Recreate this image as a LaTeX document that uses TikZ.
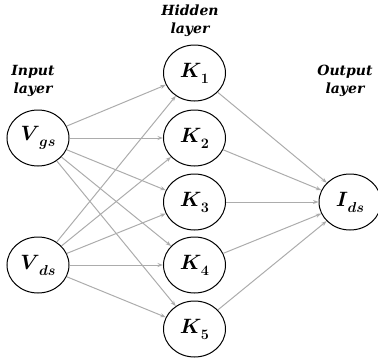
\documentclass[tikz,border=0pt]{standalone}
\usepackage{fontspec}
\usepackage{bm}
\setmainfont{DejaVu Serif}
\usetikzlibrary{shapes.geometric,arrows.meta}
\newcommand{\nlab}[2]{$\bm{#1}$\kern-0.5pt\raisebox{-0.3em}{\fontsize{14}{14}\selectfont$\bm{#2}$}}
\begin{document}
\begin{tikzpicture}[x=1pt,y=-1pt,
  neuron/.style={ellipse,draw=black,line width=1pt,minimum width=62pt,minimum height=56pt,inner sep=0pt,font=\fontsize{20}{20}\selectfont},
  lbl/.style={font=\bfseries\itshape\fontsize{14}{18}\selectfont,align=center},
  conn/.style={draw=gray!65,line width=1pt,-{Stealth[length=5.5pt,width=4pt]}}]
\useasboundingbox (0,0) rectangle (378,359);
\clip (0,0) rectangle (378,359);
\node[neuron] (vgs) at (38,138) {\nlab{V}{gs}};
\node[neuron] (vds) at (38,265) {\nlab{V}{ds}};
\node[neuron] (k1) at (194.5,73) {\nlab{K}{1}};
\node[neuron] (k2) at (194.5,138) {\nlab{K}{2}};
\node[neuron] (k3) at (194.5,202) {\nlab{K}{3}};
\node[neuron] (k4) at (194.5,265) {\nlab{K}{4}};
\node[neuron] (k5) at (194.5,329) {\nlab{K}{5}};
\node[neuron] (ids) at (350,202) {\nlab{I}{ds}};
\node[lbl] (lin) at (33,81) {Input\\layer};
\node[lbl] (lhid) at (190,21) {Hidden\\layer};
\node[lbl] (lout) at (345,81) {Output\\layer};
\foreach \k in {k1,k2,k3,k4,k5}{
  \draw[conn] (vgs) -- (\k);
  \draw[conn] (vds) -- (\k);
  \draw[conn] (\k) -- (ids);
}
\end{tikzpicture}
\end{document}
